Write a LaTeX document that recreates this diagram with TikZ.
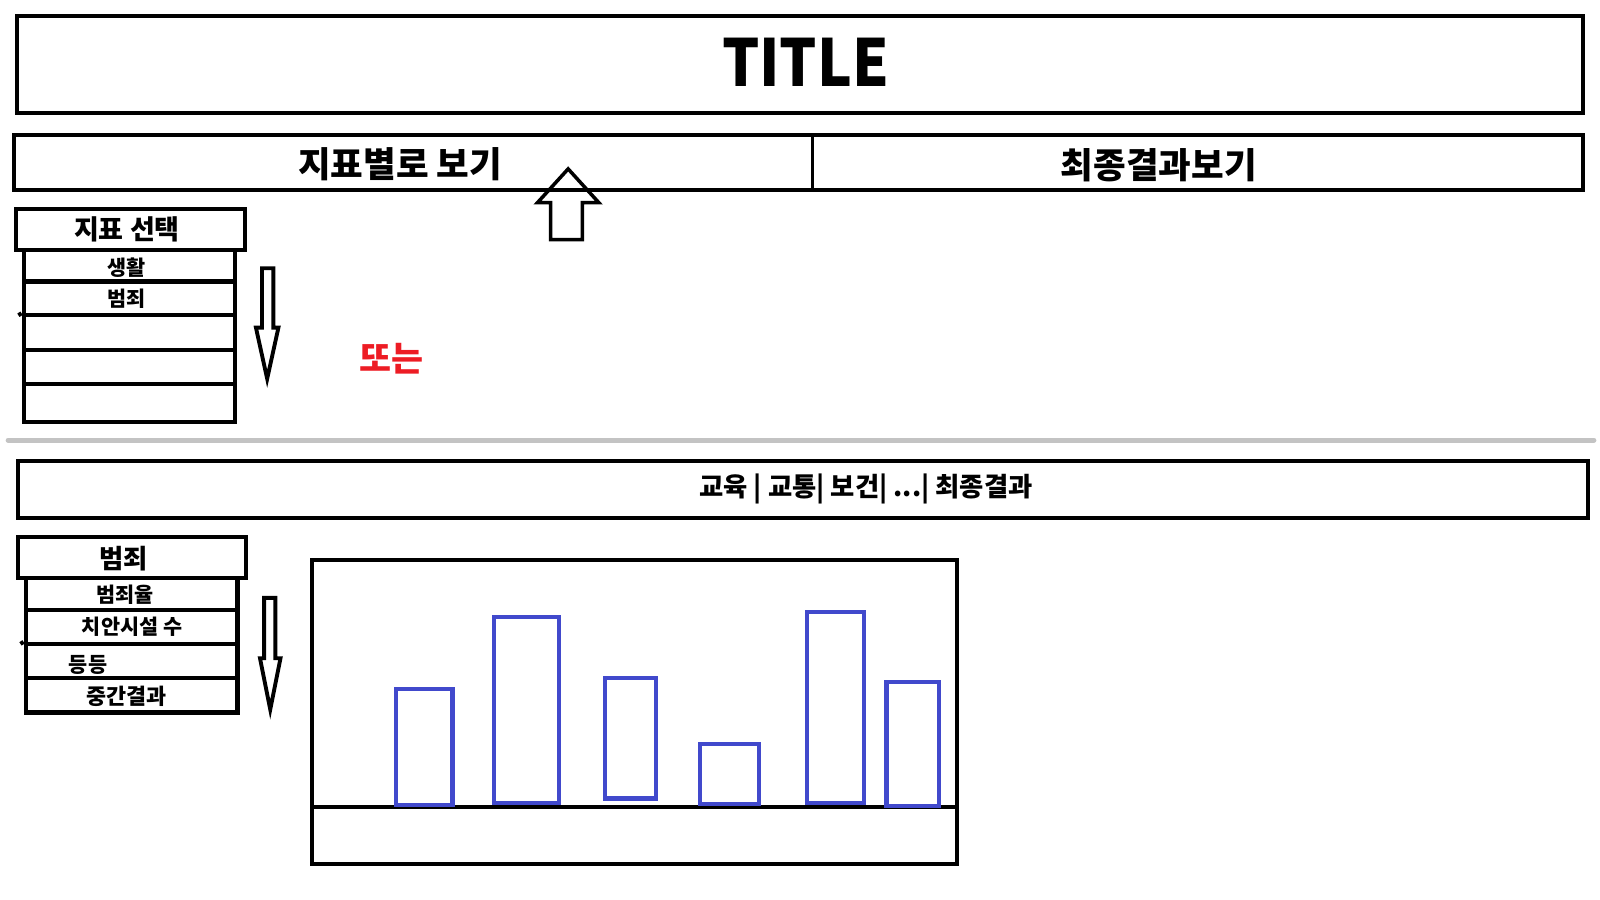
\documentclass[tikz,border=0pt]{standalone}
\usepackage{fontspec}
\usepackage{graphicx}
\setmainfont{Noto Sans CJK KR}
\usetikzlibrary{fit}
\definecolor{barblue}{RGB}{65,73,204}
\definecolor{sepgray}{RGB}{195,195,195}
\definecolor{txtred}{RGB}{237,28,36}
\tikzset{
  box/.style={draw=black, line width=1.16pt, line join=miter, inner sep=0pt, fill=none},
  thinbox/.style={draw=black, line width=0.9pt},
  lbl/.style={inner sep=0pt, font=\bfseries},
  blockarrow/.style={draw=black, line width=1.0pt, line join=miter},
  bar/.style={draw=barblue, line width=1.16pt, line join=miter, inner sep=0pt},
}
\begin{document}
\begin{tikzpicture}[x=0.010237cm, y=-0.010237cm]
\useasboundingbox (0,0) rectangle (1563,879);
% title
\node[box, fit={(17,16)(1546,110)}] (title) {};
\node[lbl, font=\bfseries\fontsize{18.5}{22}\selectfont] (titletext) at (787,61) {\scalebox{0.9}[1]{TITLE}};
% top tabs
\node[box, fit={(14,132)(1546,186)}] (tabbar) {};
\coordinate (divtop) at (794,132);
\coordinate (divbot) at (794,186);
\draw[thinbox] (divtop) -- (divbot);
\node[lbl, font=\bfseries\fontsize{10.1}{12}\selectfont] (tab1) at (391,160) {지표별로 보기};
\node[lbl, font=\bfseries\fontsize{10.1}{12}\selectfont] (tab2) at (1132,161) {최종결과보기};
% up arrow
\coordinate (ua1) at (555,165);
\coordinate (ua2) at (585,198);
\coordinate (ua3) at (569,198);
\coordinate (ua4) at (569,234);
\coordinate (ua5) at (538,234);
\coordinate (ua6) at (538,198);
\coordinate (ua7) at (525,198);
\draw[blockarrow] (ua1) -- (ua2) -- (ua3) -- (ua4) -- (ua5) -- (ua6) -- (ua7) -- cycle;
% upper list
\node[box, fit={(23,244)(230,275)}] (r1) {};
\node[box, fit={(23,275)(230,308)}] (r2) {};
\node[box, fit={(23,308)(230,342)}] (r3) {};
\node[box, fit={(23,342)(230,375)}] (r4) {};
\node[box, fit={(23,375)(230,412)}] (r5) {};
\node[box, fill=white, fit={(16,204)(239,244)}] (hdr1) {};
\coordinate (tick1a) at (18,308);
\draw[box] (tick1a) -- (r3.north west);
\node[lbl, font=\bfseries\fontsize{7.7}{9}\selectfont] (hdr1t) at (124,224) {지표 선택};
\node[lbl, font=\bfseries\fontsize{5.9}{7}\selectfont] (r1t) at (124,261) {생활};
\node[lbl, font=\bfseries\fontsize{5.9}{7}\selectfont] (r2t) at (124,292) {범죄};
% down arrow 1
\coordinate (da1) at (256,262);
\coordinate (da2) at (267,262);
\coordinate (da3) at (267,320);
\coordinate (da4) at (272,320);
\coordinate (da5) at (261,370);
\coordinate (da6) at (250,320);
\coordinate (da7) at (256,320);
\draw[blockarrow, line width=1.1pt] (da1) -- (da2) -- (da3) -- (da4) -- (da5) -- (da6) -- (da7) -- cycle;
% or
\node[lbl, text=txtred, font=\bfseries\fontsize{9.9}{11}\selectfont] (or) at (382,350) {또는};
% separator
\coordinate (sepl) at (8,430);
\coordinate (sepr) at (1557,430);
\draw[sepgray, line width=1.45pt, line cap=round] (sepl) -- (sepr);
% bottom tabs
\node[box, fit={(18,450)(1551,506)}] (tabbar2) {};
\node[lbl, font=\bfseries\fontsize{7.5}{9}\selectfont] (tab2t) at (846,478) {교육 | 교통| 보건| ...| 최종결과};
% lower list
\node[box, fit={(25,565)(232,596)}] (s1) {};
\node[box, fit={(25,596)(232,629)}] (s2) {};
\node[box, fit={(25,629)(232,662)}] (s3) {};
\node[box, fit={(25,662)(232,696)}] (s4) {};
\node[box, fill=white, fit={(18,525)(240,565)}] (hdr2) {};
\coordinate (tick2a) at (20,629);
\draw[box] (tick2a) -- (s3.north west);
\node[lbl, font=\bfseries\fontsize{7.5}{9}\selectfont] (hdr2t) at (121,546) {범죄};
\node[lbl, font=\bfseries\fontsize{5.9}{7}\selectfont] (s1t) at (122,581) {범죄율};
\node[lbl, font=\bfseries\fontsize{5.9}{7}\selectfont] (s2t) at (129,612) {치안시설 수};
\node[lbl, font=\bfseries\fontsize{5.9}{7}\selectfont] (s3t) at (86,650) {등등};
\node[lbl, font=\bfseries\fontsize{6.2}{7}\selectfont] (s4t) at (124,680) {중간결과};
% down arrow 2
\coordinate (db1) at (258,584);
\coordinate (db2) at (269,584);
\coordinate (db3) at (269,643);
\coordinate (db4) at (274,643);
\coordinate (db5) at (264,693);
\coordinate (db6) at (254,643);
\coordinate (db7) at (258,643);
\draw[blockarrow, line width=1.1pt] (db1) -- (db2) -- (db3) -- (db4) -- (db5) -- (db6) -- (db7) -- cycle;
% chart
\node[box, fit={(305,547)(935,844)}] (chart) {};
\coordinate (basel) at (305,788);
\coordinate (baser) at (935,788);
\draw[box] (basel) -- (baser);
\node[bar, fit={(387,673)(442,786)}] (b1) {};
\node[bar, fit={(483,603)(546,784)}] (b2) {};
\node[bar, fit={(591,662)(641,780)}] (b3) {};
\node[bar, fit={(684,727)(741,785)}] (b4) {};
\node[bar, fit={(788,598)(844,784)}] (b5) {};
\node[bar, fit={(866,666)(917,787)}] (b6) {};
\end{tikzpicture}
\end{document}
